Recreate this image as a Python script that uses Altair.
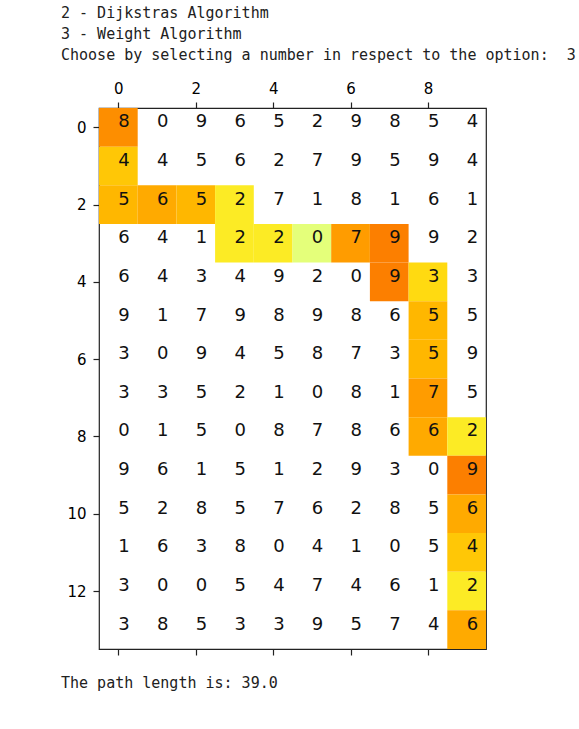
import altair as alt
import pandas as pd

# grid values, rows top to bottom
grid = [
    [8, 0, 9, 6, 5, 2, 9, 8, 5, 4],
    [4, 4, 5, 6, 2, 7, 9, 5, 9, 4],
    [5, 6, 5, 2, 7, 1, 8, 1, 6, 1],
    [6, 4, 1, 2, 2, 0, 7, 9, 9, 2],
    [6, 4, 3, 4, 9, 2, 0, 9, 3, 3],
    [9, 1, 7, 9, 8, 9, 8, 6, 5, 5],
    [3, 0, 9, 4, 5, 8, 7, 3, 5, 9],
    [3, 3, 5, 2, 1, 0, 8, 1, 7, 5],
    [0, 1, 5, 0, 8, 7, 8, 6, 6, 2],
    [9, 6, 1, 5, 1, 2, 9, 3, 0, 9],
    [5, 2, 8, 5, 7, 6, 2, 8, 5, 6],
    [1, 6, 3, 8, 0, 4, 1, 0, 5, 4],
    [3, 0, 0, 5, 4, 7, 4, 6, 1, 2],
    [3, 8, 5, 3, 3, 9, 5, 7, 4, 6],
]

# path cells (row, col)
path = [
    (0, 0), (1, 0), (2, 0), (2, 1), (2, 2), (2, 3), (3, 3), (3, 4), (3, 5),
    (3, 6), (3, 7), (4, 7), (4, 8), (5, 8), (6, 8), (7, 8), (8, 8), (8, 9),
    (9, 9), (10, 9), (11, 9), (12, 9), (13, 9),
]

console_lines = [
    "2 - Dijkstras Algorithm",
    "3 - Weight Algorithm",
    "Choose by selecting a number in respect to the option:\u00a0\u00a03",
]
result_line = "The path length is: 39.0"

x_tick_values = [0, 2, 4, 6, 8]
y_tick_values = [0, 2, 4, 6, 8, 10, 12]

# Wistia colormap stops
wistia_domain = [0, 2.25, 4.5, 6.75, 9]
wistia_range = ["#e4ff7a", "#ffe81a", "#ffbd00", "#ffa000", "#fc7f00"]

cells = pd.DataFrame(
    [{"row": r, "col": c, "v": grid[r][c]} for r in range(len(grid)) for c in range(len(grid[0]))]
)
path_df = pd.DataFrame([{"row": r, "col": c, "v": grid[r][c]} for r, c in path])

W, H = 387, 541
xs = alt.Scale(domain=[-0.5, 9.5], nice=False, zero=False)
ys = alt.Scale(domain=[-0.5, 13.5], nice=False, zero=False, reverse=True)

axis_common = dict(
    grid=False, domain=False, tickColor="#222", tickWidth=1.2,
    labelFont="DejaVu Sans", labelFontSize=15, labelColor="black", title=None,
)
top_axis = alt.Axis(orient="top", values=x_tick_values, tickSize=6, labelPadding=6,
                    format="d", **axis_common)
bottom_axis = alt.Axis(orient="bottom", values=x_tick_values, tickSize=6, labels=False,
                       **axis_common)
left_axis = alt.Axis(orient="left", values=y_tick_values, tickSize=6, labelPadding=7,
                     format="d", **axis_common)

rects = alt.Chart(path_df).transform_calculate(
    x0="datum.col - 0.5", x1="datum.col + 0.5",
    y0="datum.row - 0.5", y1="datum.row + 0.5",
).mark_rect(strokeWidth=0).encode(
    x=alt.X("x0:Q", scale=xs, axis=top_axis),
    x2="x1:Q",
    y=alt.Y("y0:Q", scale=ys, axis=left_axis),
    y2="y1:Q",
    color=alt.Color("v:Q", scale=alt.Scale(domain=wistia_domain, range=wistia_range,
                                           interpolate="rgb"), legend=None),
)

bottom_ticks = alt.Chart(cells).mark_point(opacity=0).encode(
    x=alt.X("col:Q", scale=xs, axis=bottom_axis),
    y=alt.Y("row:Q", scale=ys, axis=left_axis),
)

texts = alt.Chart(cells).mark_text(
    align="left", baseline="alphabetic", font="DejaVu Sans", fontSize=18, color="#111"
).encode(
    x=alt.X("col:Q", scale=xs, axis=None),
    y=alt.Y("row:Q", scale=ys, axis=left_axis),
    text="v:Q",
)

layers = [rects, bottom_ticks, texts]
for i, line in enumerate(console_lines):
    layers.append(
        alt.Chart(pd.DataFrame({"t": [line]})).mark_text(
            align="left", baseline="alphabetic", font="DejaVu Sans Mono",
            fontSize=15, color="#212121",
        ).encode(text="t:N", x=alt.value(-38), y=alt.value(-90 + 21 * i))
    )
layers.append(
    alt.Chart(pd.DataFrame({"t": [result_line]})).mark_text(
        align="left", baseline="alphabetic", font="DejaVu Sans Mono",
        fontSize=15, color="#212121",
    ).encode(text="t:N", x=alt.value(-38), y=alt.value(580))
)

chart = alt.layer(*layers).resolve_scale(color="independent").properties(
    width=W, height=H,
    autosize=alt.AutoSizeParams(type="none"),
    padding={"left": 99, "top": 108, "right": 93, "bottom": 80},
    background="white",
).configure_view(stroke="#222", strokeWidth=1.2)

chart.save("out.html", embed_options={"renderer": "svg", "actions": False})
